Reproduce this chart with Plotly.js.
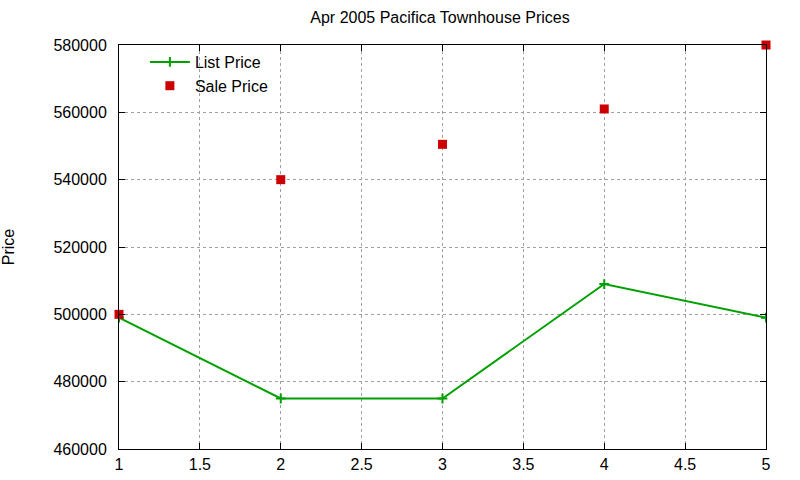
<!DOCTYPE html>
<html>
<head>
<meta charset="utf-8">
<script src="https://cdn.plot.ly/plotly-3.0.1.min.js"></script>
<style>
  html, body { margin: 0; padding: 0; background: #fff; }
  #chart { width: 800px; height: 480px; }
</style>
</head>
<body>
<div id="chart"></div>
<script>
// values
var weeks = [1, 2, 3, 4, 5];
var listPrice = [499000, 475000, 475000, 509000, 499000];
var salePrice = [500000, 540000, 550500, 561000, 580000];

var font = {family: 'Liberation Sans, Arial, sans-serif', size: 16, color: '#000'};

var trace1 = {
  x: weeks,
  y: listPrice,
  name: 'List Price',
  type: 'scatter',
  mode: 'lines+markers',
  line: {color: '#00a000', width: 2},
  marker: {symbol: 'cross-thin', size: 7, line: {color: '#00a000', width: 2}, color: '#00a000'}
};

var trace2 = {
  x: weeks,
  y: salePrice,
  name: 'Sale Price',
  type: 'scatter',
  mode: 'markers',
  marker: {symbol: 'square', size: 9, color: '#cc0000'},
  cliponaxis: false
};

var axisStyle = {
  showline: true,
  linecolor: '#000',
  linewidth: 1,
  mirror: 'ticks',
  ticks: 'inside',
  ticklen: 6,
  tickcolor: '#000',
  showgrid: true,
  gridcolor: '#a0a0a0',
  griddash: 'dot',
  gridwidth: 1,
  zeroline: false,
  tickfont: font
};

var layout = {
  width: 800,
  height: 480,
  paper_bgcolor: '#fff',
  plot_bgcolor: '#fff',
  font: font,
  margin: {l: 119, r: 34, t: 45, b: 31},
  title: {text: 'Apr 2005 Pacifica Townhouse Prices', x: 0.55, xanchor: 'center', y: 0.975, yanchor: 'top',
          font: {family: font.family, size: 16, color: '#000'}},
  xaxis: Object.assign({}, axisStyle, {range: [1, 5], dtick: 0.5, ticklabelstandoff: 1}),
  yaxis: Object.assign({}, axisStyle, {range: [460000, 580000], dtick: 20000, tickformat: 'd',
    ticklabelstandoff: 8, title: {text: 'Price', font: font, standoff: 40}}),
  showlegend: true,
  legend: {x: 0.04, y: 1.0, xanchor: 'left', yanchor: 'top', bgcolor: 'rgba(0,0,0,0)',
           font: font, tracegroupgap: 0, itemwidth: 40}
};

Plotly.newPlot('chart', [trace1, trace2], layout, {displayModeBar: false, staticPlot: true});
</script>
</body>
</html>
